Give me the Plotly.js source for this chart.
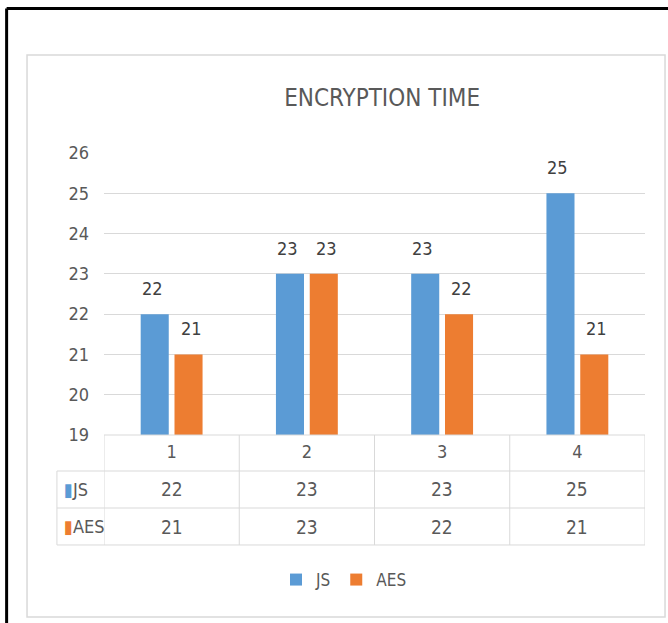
<!DOCTYPE html>
<html>
<head>
<meta charset="utf-8">
<script src="https://cdn.plot.ly/plotly-3.0.1.min.js"></script>
<style>
  html, body { margin: 0; padding: 0; background: #ffffff; }
  #chart { width: 668px; height: 623px; }
</style>
</head>
<body>
<div id="chart"></div>
<script>
// ---- data ----
var categories = ['1', '2', '3', '4'];
var jsValues = [22, 23, 23, 25];
var aesValues = [21, 23, 22, 21];
var seriesNames = ['JS', 'AES'];
var yTicks = [19, 20, 21, 22, 23, 24, 25, 26];
var chartTitle = 'ENCRYPTION TIME';

// ---- styles ----
var FONT = "'Liberation Sans Narrow', 'DejaVu Sans Condensed', 'Arial Narrow', sans-serif";
var TXT = '#595959';
var LBL = '#404040';
var BLUE = '#5B9BD5';
var ORANGE = '#ED7D31';
var LINE = '#d9d9d9';

var traces = [
  { type: 'bar', name: seriesNames[0], x: categories, y: jsValues,
    marker: { color: BLUE }, hoverinfo: 'x+y+name' },
  { type: 'bar', name: seriesNames[1], x: categories, y: aesValues,
    marker: { color: ORANGE }, hoverinfo: 'x+y+name' }
];

// table row positions (paper coords relative to plot area)
var rowJsTop = -0.1277, rowAesTop = -0.2589, rowBottom = -0.390;
var rowHeadLeft = -0.087;
var yJs = -0.193, yAes = -0.3245;

var shapes = [];
function line(xref, x0, x1, y0, y1, color, width) {
  shapes.push({ type: 'line', xref: xref, yref: 'paper', x0: x0, x1: x1, y0: y0, y1: y1,
    line: { color: color, width: width || 1 }, layer: 'above' });
}
// outer black frame (left and top)
line('paper', -0.18, -0.18, 1.512, -0.67, '#000000', 3);
line('paper', -0.18, 1.06, 1.512, 1.512, '#000000', 3);
// inner light chart frame
shapes.push({ type: 'rect', xref: 'paper', yref: 'paper', x0: -0.1423, x1: 1.037, y0: -0.645, y1: 1.3475,
  line: { color: '#d9d9d9', width: 1.5 }, fillcolor: 'rgba(0,0,0,0)', layer: 'below' });
// data table lines
line('paper', 0, 1, 0, 0, LINE, 1);
line('paper', rowHeadLeft, 1, rowJsTop, rowJsTop, LINE, 1);
line('paper', rowHeadLeft, 1, rowAesTop, rowAesTop, LINE, 1);
line('paper', rowHeadLeft, 1, rowBottom, rowBottom, LINE, 1);
line('paper', rowHeadLeft, rowHeadLeft, rowJsTop, rowBottom, LINE, 1);
for (var b = 0; b <= categories.length; b++) {
  line('x', b - 0.5, b - 0.5, 0, rowBottom, LINE, 1);
}

var annotations = [];
for (var i = 0; i < categories.length; i++) {
  // data labels above bars (x = category index)
  annotations.push({ x: i, y: jsValues[i], xref: 'x', yref: 'y', text: String(jsValues[i]),
    showarrow: false, xshift: -19.5, yshift: 13, yanchor: 'bottom',
    font: { family: FONT, size: 18, color: LBL } });
  annotations.push({ x: i, y: aesValues[i], xref: 'x', yref: 'y', text: String(aesValues[i]),
    showarrow: false, xshift: 19.5, yshift: 13, yanchor: 'bottom',
    font: { family: FONT, size: 18, color: LBL } });
  // data table values
  annotations.push({ x: i, y: yJs, xref: 'x', yref: 'paper', text: String(jsValues[i]),
    showarrow: false, yanchor: 'middle', font: { family: FONT, size: 19, color: TXT } });
  annotations.push({ x: i, y: yAes, xref: 'x', yref: 'paper', text: String(aesValues[i]),
    showarrow: false, yanchor: 'middle', font: { family: FONT, size: 19, color: TXT } });
}
// row headers
annotations.push({ x: -0.0776, y: yJs, xref: 'paper', yref: 'paper', xanchor: 'left', yanchor: 'middle',
  showarrow: false, text: '<span style="color:' + BLUE + '">\u25AE</span>' + seriesNames[0],
  font: { family: FONT, size: 18, color: TXT } });
annotations.push({ x: -0.0776, y: yAes, xref: 'paper', yref: 'paper', xanchor: 'left', yanchor: 'middle',
  showarrow: false, text: '<span style="color:' + ORANGE + '">\u25AE</span>' + seriesNames[1],
  font: { family: FONT, size: 18, color: TXT } });

var layout = {
  width: 668, height: 623,
  margin: { l: 104, r: 23, t: 153, b: 188 },
  paper_bgcolor: '#ffffff', plot_bgcolor: '#ffffff',
  font: { family: FONT, color: TXT },
  title: { text: chartTitle, x: 0.572, xref: 'container', xanchor: 'center',
    y: 0.843, yref: 'container', yanchor: 'middle',
    font: { family: FONT, size: 24, color: TXT } },
  barmode: 'group', bargap: 0.5, bargroupgap: 0.17,
  xaxis: { type: 'category', range: [-0.5, 3.5], showgrid: false, zeroline: false, showline: false, ticks: '',
    tickfont: { family: FONT, size: 18, color: TXT }, ticklabelstandoff: 4, fixedrange: true },
  yaxis: { range: [19, 26], tickvals: yTicks, showgrid: true, gridcolor: LINE, gridwidth: 1,
    zeroline: false, showline: false, ticks: '', ticklabelstandoff: 14,
    tickfont: { family: FONT, size: 18, color: TXT }, fixedrange: true },
  showlegend: true,
  legend: { orientation: 'h', xref: 'container', x: 0.515, xanchor: 'center',
    yref: 'container', y: 0.069, yanchor: 'middle', itemwidth: 30,
    font: { family: FONT, size: 17, color: TXT }, bgcolor: 'rgba(0,0,0,0)' },
  shapes: shapes,
  annotations: annotations
};

Plotly.newPlot('chart', traces, layout, { displayModeBar: false, staticPlot: true });
</script>
</body>
</html>
